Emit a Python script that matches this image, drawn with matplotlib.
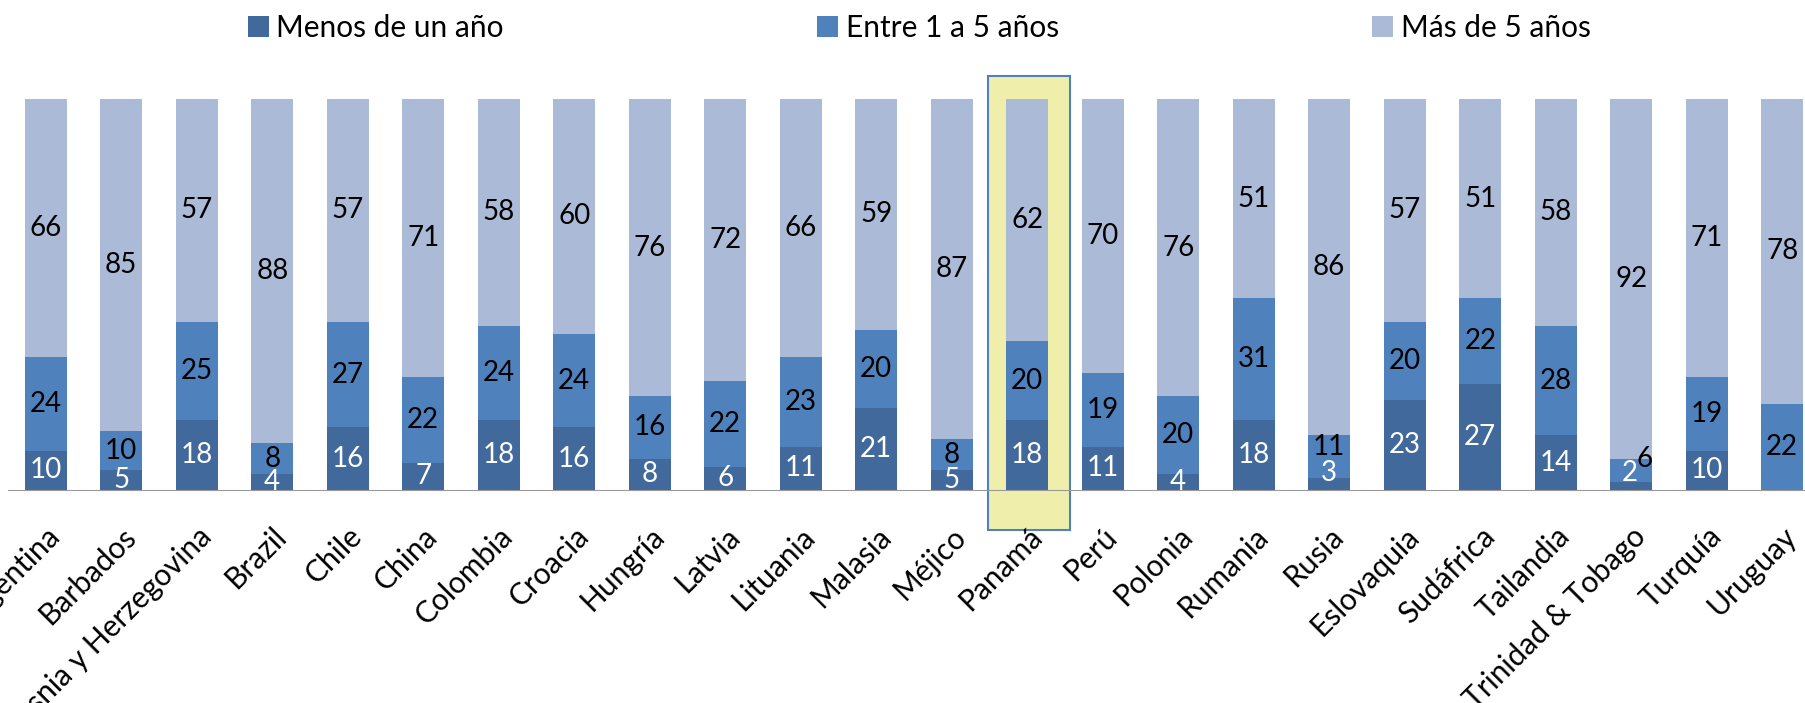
import matplotlib.pyplot as plt
import matplotlib.patches as mpatches
import numpy as np

paises = ["Argentina", "Barbados", "Bosnia y Herzegovina", "Brazil", "Chile", "China",
          "Colombia", "Croacia", "Hungría", "Latvia", "Lituania", "Malasia", "Méjico",
          "Panamá", "Perú", "Polonia", "Rumania", "Rusia", "Eslovaquia", "Sudáfrica",
          "Tailandia", "Trinidad & Tobago", "Turquía", "Uruguay"]
menos_un_ano = [10, 5, 18, 4, 16, 7, 18, 16, 8, 6, 11, 21, 5, 18, 11, 4, 18, 3, 23, 27, 14, 2, 10, 0]
entre_1_5 = [24, 10, 25, 8, 27, 22, 24, 24, 16, 22, 23, 20, 8, 20, 19, 20, 31, 11, 20, 22, 28, 6, 19, 22]
mas_5 = [66, 85, 57, 88, 57, 71, 58, 60, 76, 72, 66, 59, 87, 62, 70, 76, 51, 86, 57, 51, 58, 92, 71, 78]
resaltado = "Panamá"

plt.rcParams['font.family'] = ['Lato', 'DejaVu Sans']

fig = plt.figure(figsize=(18.06, 7.03), dpi=100)
W, H = 1806, 703
# axes runs past the right edge, like the clipped original
ax = fig.add_axes([8 / W, (H - 490) / H, 24 * 75.5 / W, 391 / H])

x = np.arange(len(paises))
a = np.array(menos_un_ano)
b = np.array(entre_1_5)
c = np.array(mas_5)
w = 0.55

b1 = ax.bar(x, a, w, color='#41699C', label='Menos de un año', zorder=3)
b2 = ax.bar(x, b, w, bottom=a, color='#4F81BD', label='Entre 1 a 5 años', zorder=3)
b3 = ax.bar(x, c, w, bottom=a + b, color='#AABAD7', label='Más de 5 años', zorder=3)

fs = 20
t1 = ax.bar_label(b1, labels=[str(v) if v else '' for v in a], label_type='center',
                  color='white', fontsize=fs, zorder=4)
t2 = ax.bar_label(b2, labels=[str(v) if v else '' for v in b], label_type='center',
                  color='black', fontsize=fs, zorder=4)
ax.bar_label(b3, labels=[str(v) if v else '' for v in c], label_type='center',
             color='black', fontsize=fs, zorder=4)

# small segments: labels pushed apart the way Excel did it
r = paises.index("Rusia")
t1[r].xyann = (0, 8)
t2[r].xyann = (0, 7)
tt = paises.index("Trinidad & Tobago")
t1[tt].xyann = (-1, 9.5)
t2[tt].xyann = (9.5, 8)

# highlight box
i = paises.index(resaltado)
box = mpatches.Rectangle((i - 0.52, -10.2), 1.09, 116.2, facecolor='#EFEEAA',
                         edgecolor='#4F81BD', lw=1.5, clip_on=False, zorder=1)
ax.add_patch(box)

ax.set_xlim(-0.5, len(paises) - 0.5)
ax.set_ylim(0, 100)
ax.set_yticks([])
for s in ['top', 'right', 'left']:
    ax.spines[s].set_visible(False)
ax.spines['bottom'].set_color('#9A9A9A')
ax.spines['bottom'].set_zorder(5)
ax.set_xticks(x)
ax.set_xticklabels(paises, rotation=45, ha='right', va='top', rotation_mode='anchor',
                   fontsize=21.5)
ax.tick_params(axis='x', length=0, pad=23)

fig.legend(handles=[b1, b2, b3], loc='upper left', bbox_to_anchor=(221 / W, 1.018),
           ncol=3, frameon=False, fontsize=21.5, handlelength=0.7, handleheight=0.7,
           handletextpad=0.25, columnspacing=10.5)

fig.savefig('out.png', dpi=100)
